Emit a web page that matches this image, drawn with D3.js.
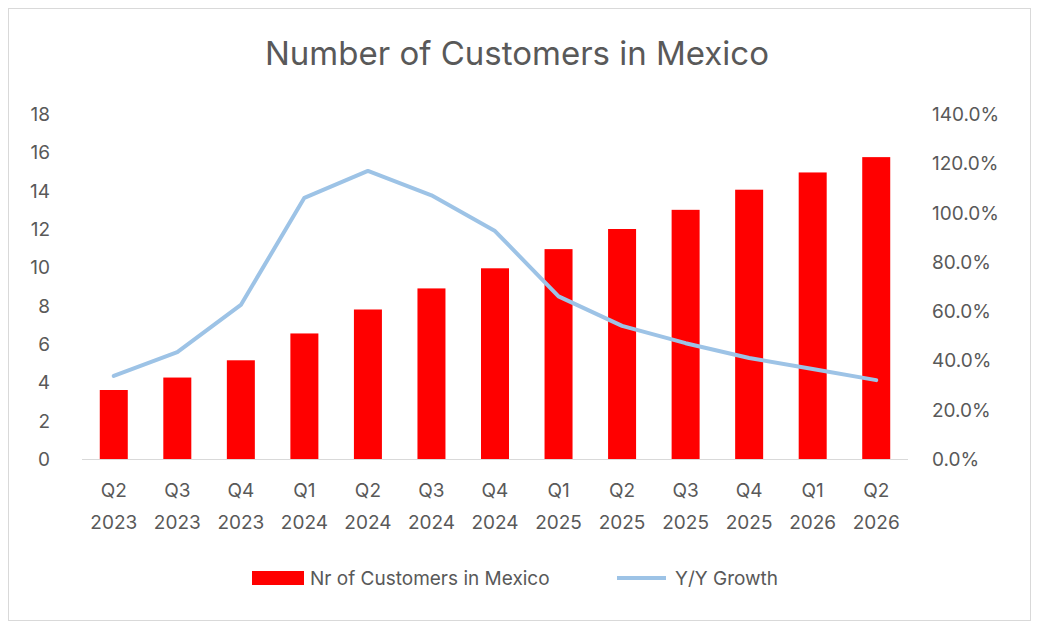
<!DOCTYPE html>
<html><head><meta charset="utf-8">
<script src="https://cdn.jsdelivr.net/npm/d3@7"></script>
<style>body{margin:0;background:#fff}text{font-family:Inter,"Open Sans",sans-serif;fill:#595959}</style>
</head><body><svg id="c" width="1042" height="634"></svg>
<script>
var quarters = ["Q2","Q3","Q4","Q1","Q2","Q3","Q4","Q1","Q2","Q3","Q4","Q1","Q2"];
var years = ["2023","2023","2023","2024","2024","2024","2024","2025","2025","2025","2025","2026","2026"];
var customers = [3.6,4.25,5.15,6.55,7.8,8.9,9.95,10.95,12.0,13.0,14.05,14.95,15.75];
var growth = [0.337,0.434,0.625,1.06,1.169,1.07,0.925,0.66,0.54,0.47,0.41,0.365,0.32];
var leftTicks = [0,2,4,6,8,10,12,14,16,18];
var rightTicks = [0,0.2,0.4,0.6,0.8,1.0,1.2,1.4];

var svg = d3.select('#c');
svg.append('rect').attr('x',8.5).attr('y',8.5).attr('width',1022).attr('height',612)
   .attr('fill','#fff').attr('stroke','#d9d9d9');
var L = 82, R = 908, T = 114, B = 459;
var idx = d3.range(quarters.length);
var x = d3.scaleBand().domain(idx).range([L,R]);
var y = d3.scaleLinear().domain([0,18]).range([B,T]);
var y2 = d3.scaleLinear().domain([0,1.4]).range([B,T]);

svg.append('text').attr('x',517).attr('y',65).attr('text-anchor','middle')
   .attr('font-size',33).text('Number of Customers in Mexico');

svg.selectAll('.bar').data(customers).enter().append('rect')
   .attr('x',function(d,i){return x(i)+x.bandwidth()/2-14;}).attr('width',28)
   .attr('y',function(d){return y(d);}).attr('height',function(d){return B-y(d);})
   .attr('fill','#ff0000');

svg.append('line').attr('x1',L).attr('x2',R).attr('y1',B+0.5).attr('y2',B+0.5).attr('stroke','#d9d9d9');

var line = d3.line().x(function(d,i){return x(i)+x.bandwidth()/2;}).y(function(d){return y2(d);});
svg.append('path').datum(growth).attr('d',line).attr('fill','none')
   .attr('stroke','#9dc3e6').attr('stroke-width',4).attr('stroke-linejoin','round').attr('stroke-linecap','round');

svg.selectAll('.lt').data(leftTicks).enter().append('text')
   .attr('x',50).attr('y',function(d){return y(d)+7;}).attr('text-anchor','end')
   .attr('font-size',19).text(function(d){return d;});
svg.selectAll('.rt').data(rightTicks).enter().append('text')
   .attr('x',932).attr('y',function(d){return y2(d)+7;})
   .attr('font-size',19).text(function(d){return d3.format('.1%')(d);});
var xl = svg.selectAll('.xl').data(idx).enter().append('text')
   .attr('text-anchor','middle').attr('font-size',19);
xl.append('tspan').attr('x',function(i){return x(i)+x.bandwidth()/2;}).attr('y',497).text(function(i){return quarters[i];});
xl.append('tspan').attr('x',function(i){return x(i)+x.bandwidth()/2;}).attr('y',529).text(function(i){return years[i];});

svg.append('rect').attr('x',252).attr('y',571).attr('width',52).attr('height',14).attr('fill','#ff0000');
svg.append('text').attr('x',310).attr('y',585).attr('font-size',19).text('Nr of Customers in Mexico');
svg.append('line').attr('x1',617).attr('x2',666).attr('y1',578).attr('y2',578).attr('stroke','#9dc3e6').attr('stroke-width',4);
svg.append('text').attr('x',675).attr('y',585).attr('font-size',19).text('Y/Y Growth');
</script></body></html>
